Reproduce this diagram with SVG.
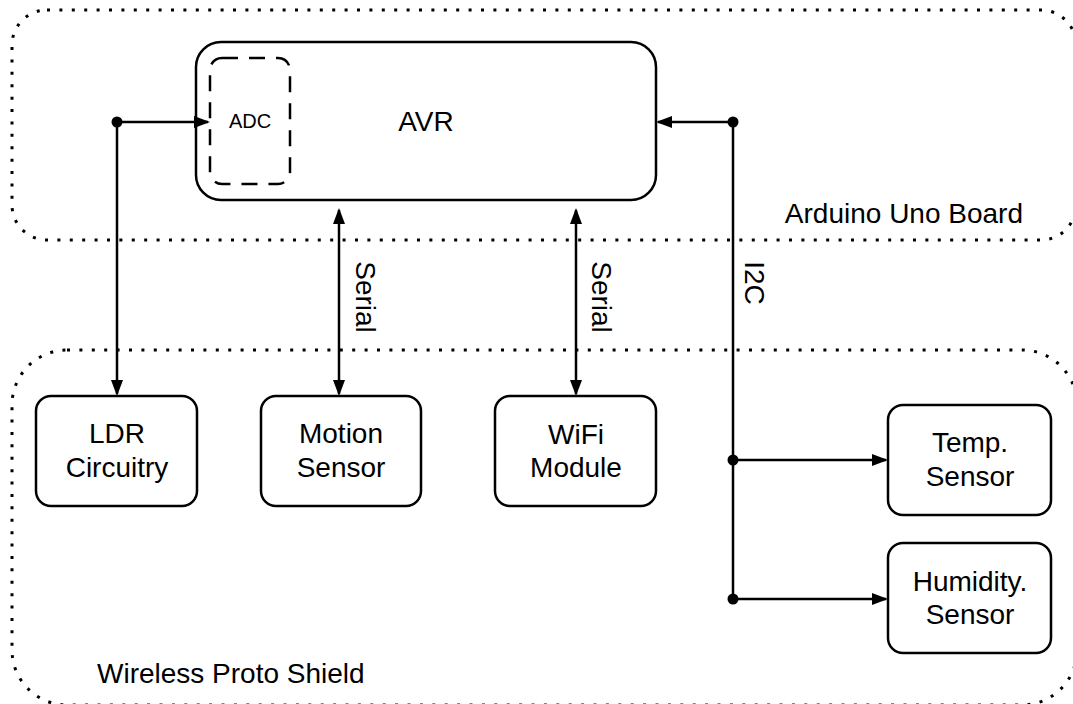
<svg xmlns="http://www.w3.org/2000/svg" width="1073" height="704" viewBox="0 0 1073 704">
<style>
text{font-family:"Liberation Sans",Arial,sans-serif;fill:#000;font-size:28px}
.c{text-anchor:middle}
.box{fill:#fff;stroke:#000;stroke-width:2.5}
.grp{fill:none;stroke:#000;stroke-width:3;stroke-dasharray:3 9.4;stroke-linecap:butt}
.ln{fill:none;stroke:#000;stroke-width:2.5}
.dot{fill:#000}
</style>
<defs>
<marker id="arr" viewBox="0 0 16 12" markerWidth="16" markerHeight="12" markerUnits="userSpaceOnUse" refX="14" refY="6" orient="auto-start-reverse">
<path d="M0,0 L16,6 L0,12 z" fill="#000"/>
</marker>
</defs>
<g id="arduino-board">
<rect class="grp" x="12" y="10" width="1064" height="230" rx="35" ry="35"/>
<text x="1023" y="223" text-anchor="end">Arduino Uno Board</text>
</g>
<g id="proto-shield">
<rect class="grp" x="12" y="350" width="1065" height="355" rx="55" ry="55"/>
<text x="97" y="683">Wireless Proto Shield</text>
</g>
<g id="avr">
<rect class="box" x="196" y="42" width="460" height="158" rx="25" ry="25"/>
<text class="c" x="426" y="131">AVR</text>
</g>
<g id="adc">
<rect fill="none" stroke="#000" stroke-width="2.5" stroke-dasharray="16 11" x="210" y="58" width="80" height="126" rx="12" ry="12"/>
<text class="c" x="250" y="128" style="font-size:20px">ADC</text>
</g>
<g id="ldr">
<rect class="box" x="36" y="396" width="161" height="110" rx="15" ry="15"/>
<text class="c" x="117" y="443">LDR</text>
<text class="c" x="117" y="477">Circuitry</text>
</g>
<g id="motion">
<rect class="box" x="261" y="396" width="160" height="110" rx="15" ry="15"/>
<text class="c" x="341" y="443">Motion</text>
<text class="c" x="341" y="477">Sensor</text>
</g>
<g id="wifi">
<rect class="box" x="495" y="396" width="161" height="110" rx="15" ry="15"/>
<text class="c" x="576" y="444">WiFi</text>
<text class="c" x="576" y="477">Module</text>
</g>
<g id="temp">
<rect class="box" x="888" y="405" width="163" height="110" rx="15" ry="15"/>
<text class="c" x="970" y="452">Temp.</text>
<text class="c" x="970" y="486">Sensor</text>
</g>
<g id="humidity">
<rect class="box" x="888" y="543" width="163" height="110" rx="15" ry="15"/>
<text class="c" x="970" y="591">Humidity.</text>
<text class="c" x="970" y="624">Sensor</text>
</g>
<g id="connectors">
<path class="ln" d="M117,122 H208" marker-end="url(#arr)"/>
<path class="ln" d="M117,122 V394" marker-end="url(#arr)"/>
<circle class="dot" cx="117" cy="122" r="5.5"/>
<path class="ln" d="M339,210 V394" marker-start="url(#arr)" marker-end="url(#arr)"/>
<path class="ln" d="M576,210 V394" marker-start="url(#arr)" marker-end="url(#arr)"/>
<path class="ln" d="M733,122 H658" marker-end="url(#arr)"/>
<path class="ln" d="M733,122 V599"/>
<path class="ln" d="M733,460 H886" marker-end="url(#arr)"/>
<path class="ln" d="M733,599 H886" marker-end="url(#arr)"/>
<circle class="dot" cx="733" cy="122" r="5.5"/>
<circle class="dot" cx="733" cy="460" r="5.5"/>
<circle class="dot" cx="733" cy="599" r="5.5"/>
<text class="c" transform="translate(356,297) rotate(90)">Serial</text>
<text class="c" transform="translate(592,297) rotate(90)">Serial</text>
<text class="c" transform="translate(745,283) rotate(90)">I2C</text>
</g>
</svg>
